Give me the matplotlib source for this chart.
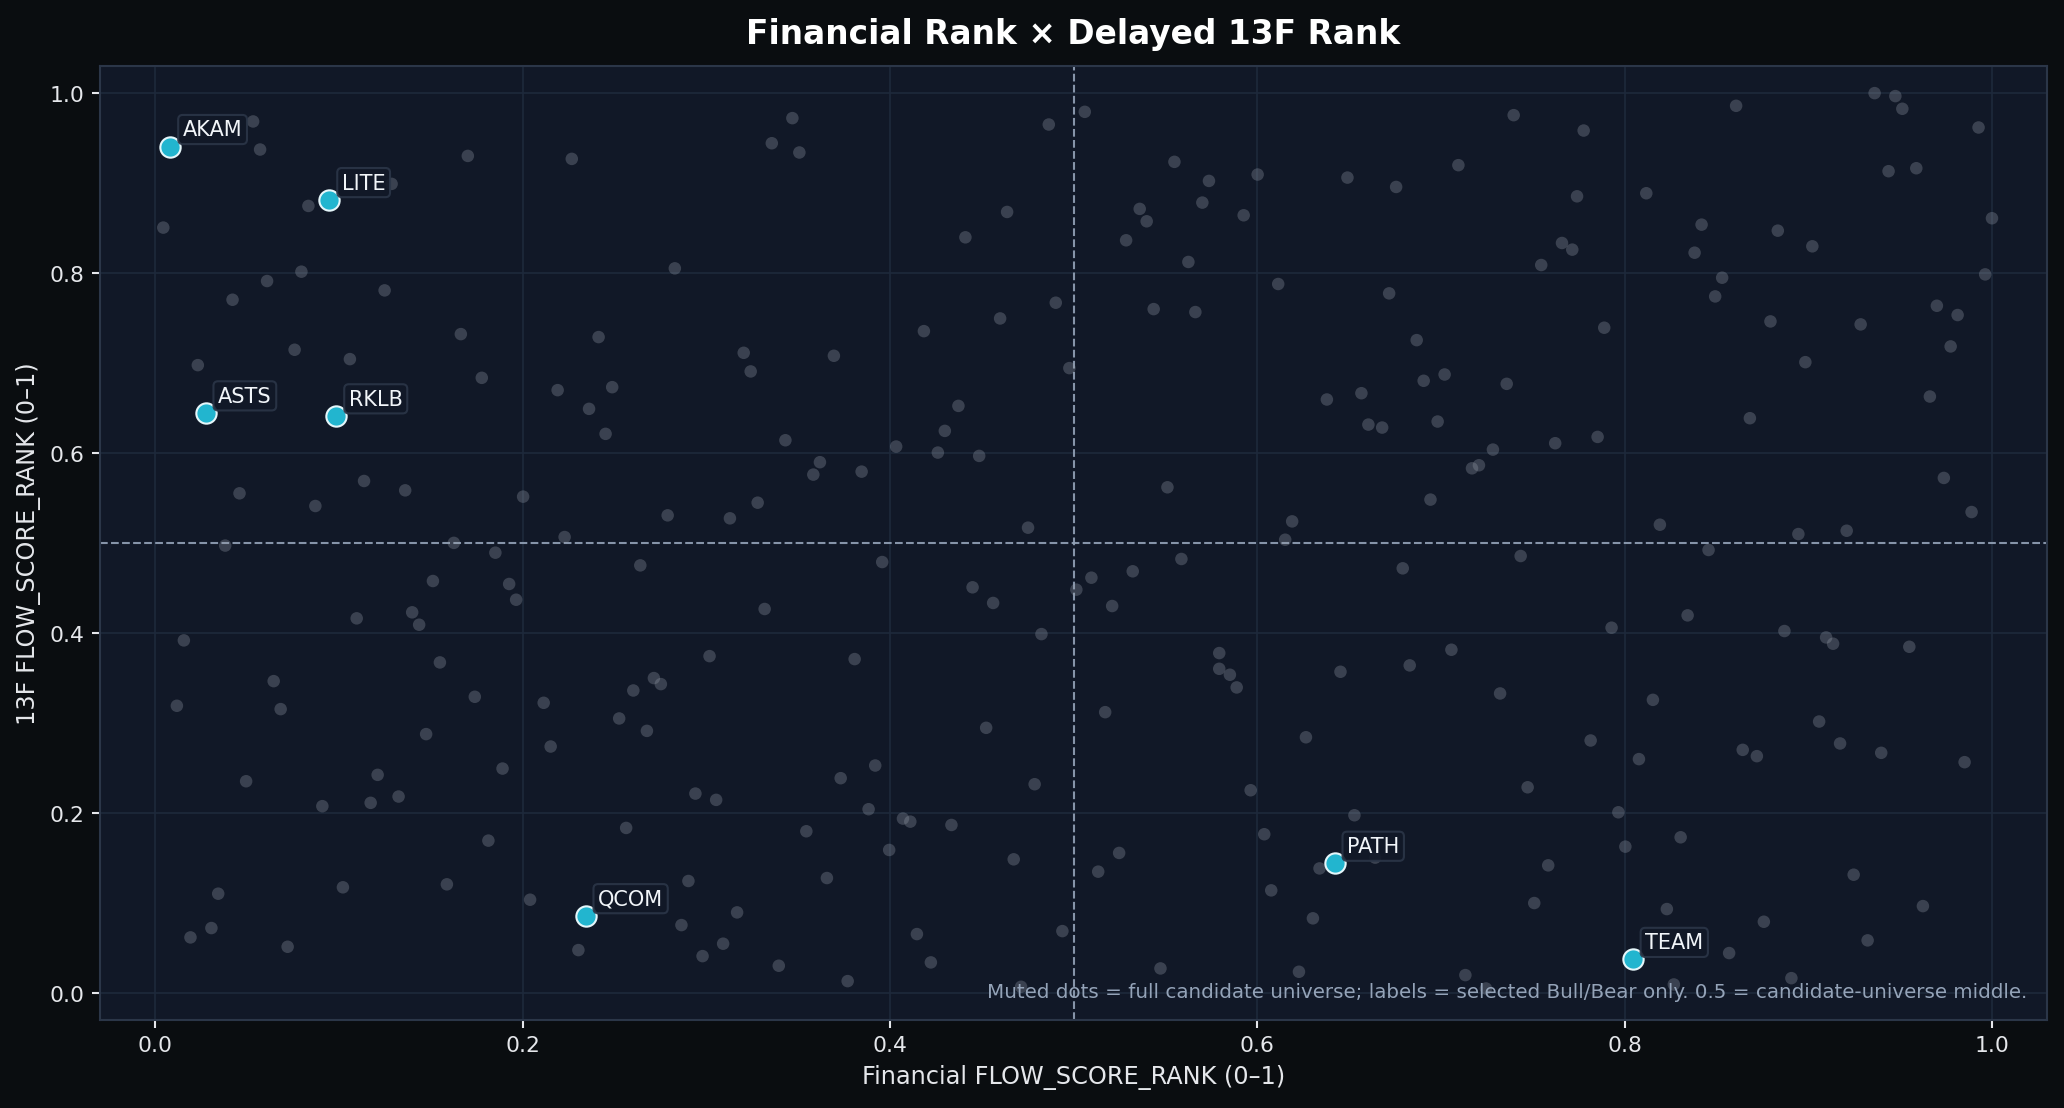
import matplotlib
matplotlib.use("Agg")
import matplotlib.pyplot as plt

# ---- data ----
universe_x = [
    0.0533, 0.0571, 0.1702, 0.2268, 0.1287, 0.0834, 0.0044, 0.0796, 0.0609, 0.0421,
    0.1249, 0.1664, 0.0759, 0.1060, 0.0232, 0.1778, 0.2191, 0.2362, 0.1137, 0.1361,
    0.0459, 0.0872, 0.2003, 0.2229, 0.1626, 0.0381,
    0.3469, 0.3357, 0.3507, 0.4865, 0.4638, 0.4411, 0.2829, 0.2414, 0.4903, 0.4600,
    0.4185, 0.3204, 0.3695, 0.3242, 0.2488, 0.4977, 0.2452, 0.4373, 0.4299, 0.3431,
    0.4034, 0.4261, 0.4486, 0.3619, 0.3583, 0.3846, 0.3280, 0.2790, 0.3129, 0.4752,
    0.5061, 0.5549, 0.5737, 0.6002, 0.5360, 0.5398, 0.5701, 0.5926, 0.5286, 0.5625,
    0.6491, 0.6756, 0.7095, 0.7396, 0.7659, 0.7546, 0.6114, 0.6718, 0.5436, 0.5663,
    0.6868, 0.7020, 0.6906, 0.7358, 0.6567, 0.6379, 0.6605, 0.6680, 0.6982, 0.7622,
    0.7283, 0.7207, 0.7169, 0.5511, 0.6943, 0.6190, 0.6152,
    0.7777, 0.8607, 0.9361, 0.9474, 0.9512, 0.9927, 0.9437, 0.9588, 0.7741, 0.8118,
    0.7715, 0.8419, 0.8381, 0.8834, 0.9022, 1.0000, 0.8531, 0.8493, 0.9963, 0.7889,
    0.8794, 0.9285, 0.9700, 0.9813, 0.9775, 0.8984, 0.9662, 0.8682, 0.7853, 0.9738,
    0.9889, 0.8192, 0.8946, 0.9209,
    0.1852, 0.1512, 0.1927, 0.1965, 0.1097, 0.1399, 0.1437, 0.0156, 0.1550, 0.0645,
    0.0118, 0.0683, 0.1740, 0.2115, 0.1475, 0.2153, 0.1891, 0.1211, 0.0495, 0.1325,
    0.1173, 0.0910, 0.1814, 0.1022, 0.1588, 0.0343, 0.2041, 0.0306, 0.0192, 0.0721,
    0.2304,
    0.2641, 0.3958, 0.3318, 0.4450, 0.4562, 0.5015, 0.4825, 0.3018, 0.3808, 0.2715,
    0.2753, 0.2603, 0.2526, 0.2677, 0.4524, 0.3920, 0.3732, 0.4788, 0.2941, 0.3054,
    0.3884, 0.4071, 0.4111, 0.4335, 0.2564, 0.3545, 0.3996, 0.4674, 0.3657, 0.2903,
    0.3168, 0.2865, 0.4147, 0.4939, 0.3092, 0.2980, 0.3395, 0.4223, 0.3770, 0.4714,
    0.5097, 0.5322, 0.5587, 0.5210, 0.6792, 0.7434, 0.5793, 0.5793, 0.5851, 0.5888,
    0.6453, 0.6830, 0.7057, 0.7322, 0.5172, 0.6265, 0.5964, 0.7472, 0.6529, 0.6038,
    0.5248, 0.5134, 0.6642, 0.6339, 0.7584, 0.6076, 0.7508, 0.6303, 0.5473, 0.6227,
    0.7133, 0.7245,
    0.8457, 0.8343, 0.7929, 0.8870, 0.9097, 0.9135, 0.9550, 0.8154, 0.9059, 0.7815,
    0.8078, 0.8643, 0.8720, 0.9173, 0.9397, 0.9851, 0.7966, 0.8004, 0.8305, 0.9247,
    0.9624, 0.8230, 0.8758, 0.9323, 0.8569, 0.8908, 0.8268,
]
universe_y = [
    0.9685, 0.9373, 0.9302, 0.9269, 0.8991, 0.8746, 0.8505, 0.8015, 0.7911, 0.7703,
    0.7807, 0.7321, 0.7147, 0.7043, 0.6976, 0.6835, 0.6698, 0.6490, 0.5688, 0.5584,
    0.5551, 0.5410, 0.5514, 0.5065, 0.5000, 0.4970,
    0.9722, 0.9443, 0.9340, 0.9651, 0.8679, 0.8397, 0.8052, 0.7288, 0.7670, 0.7495,
    0.7354, 0.7113, 0.7080, 0.6906, 0.6731, 0.6943, 0.6212, 0.6523, 0.6245, 0.6141,
    0.6071, 0.6004, 0.5967, 0.5897, 0.5759, 0.5792, 0.5447, 0.5306, 0.5273, 0.5169,
    0.9792, 0.9236, 0.9024, 0.9095, 0.8713, 0.8575, 0.8783, 0.8642, 0.8364, 0.8123,
    0.9061, 0.8957, 0.9199, 0.9755, 0.8334, 0.8089, 0.7878, 0.7774, 0.7599, 0.7566,
    0.7254, 0.6872, 0.6802, 0.6768, 0.6664, 0.6594, 0.6315, 0.6282, 0.6349, 0.6108,
    0.6037, 0.5863, 0.5829, 0.5618, 0.5481, 0.5239, 0.5035,
    0.9584, 0.9859, 1.0000, 0.9967, 0.9826, 0.9618, 0.9132, 0.9165, 0.8853, 0.8887,
    0.8260, 0.8538, 0.8226, 0.8471, 0.8297, 0.8609, 0.7948, 0.7740, 0.7985, 0.7392,
    0.7462, 0.7429, 0.7636, 0.7533, 0.7184, 0.7009, 0.6627, 0.6386, 0.6178, 0.5722,
    0.5343, 0.5202, 0.5098, 0.5135,
    0.4891, 0.4576, 0.4543, 0.4368, 0.4161, 0.4228, 0.4090, 0.3916, 0.3671, 0.3463,
    0.3189, 0.3152, 0.3289, 0.3222, 0.2874, 0.2736, 0.2491, 0.2421, 0.2350, 0.2180,
    0.2110, 0.2073, 0.1690, 0.1171, 0.1204, 0.1100, 0.1033, 0.0718, 0.0614, 0.0510,
    0.0473,
    0.4750, 0.4787, 0.4265, 0.4506, 0.4332, 0.4480, 0.3986, 0.3741, 0.3708, 0.3497,
    0.3430, 0.3359, 0.3048, 0.2910, 0.2944, 0.2525, 0.2384, 0.2317, 0.2213, 0.2143,
    0.2039, 0.1935, 0.1901, 0.1864, 0.1831, 0.1794, 0.1586, 0.1482, 0.1274, 0.1241,
    0.0892, 0.0751, 0.0651, 0.0684, 0.0544, 0.0406, 0.0299, 0.0336, 0.0128, 0.0065,
    0.4613, 0.4684, 0.4821, 0.4298, 0.4717, 0.4854, 0.3775, 0.3600, 0.3534, 0.3393,
    0.3567, 0.3638, 0.3812, 0.3326, 0.3118, 0.2839, 0.2250, 0.2283, 0.1972, 0.1761,
    0.1553, 0.1345, 0.1501, 0.1381, 0.1415, 0.1137, 0.0996, 0.0826, 0.0269, 0.0232,
    0.0195, 0.0046,
    0.4921, 0.4194, 0.4057, 0.4020, 0.3949, 0.3879, 0.3845, 0.3255, 0.3014, 0.2803,
    0.2596, 0.2699, 0.2629, 0.2770, 0.2666, 0.2562, 0.2005, 0.1623, 0.1727, 0.1311,
    0.0962, 0.0929, 0.0788, 0.0581, 0.0440, 0.0161, 0.0091,
]

selected_tickers = ["AKAM", "LITE", "ASTS", "RKLB", "QCOM", "PATH", "TEAM"]
selected_x = [0.0082, 0.0948, 0.0274, 0.0986, 0.2343, 0.6421, 0.8044]
selected_y = [0.9406, 0.8816, 0.6445, 0.6412, 0.0855, 0.1438, 0.0369]

x_ticks = [0.0, 0.2, 0.4, 0.6, 0.8, 1.0]
y_ticks = [0.0, 0.2, 0.4, 0.6, 0.8, 1.0]
midpoint = 0.5

title = "Financial Rank × Delayed 13F Rank"
x_label = "Financial FLOW_SCORE_RANK (0–1)"
y_label = "13F FLOW_SCORE_RANK (0–1)"
note = ("Muted dots = full candidate universe; labels = selected Bull/Bear only. "
        "0.5 = candidate-universe middle.")

# ---- style ----
FIG_BG = "#0a0d10"
AX_BG = "#111827"
TEXT = "#e5e7eb"
SPINE = "#2b3648"
GRID = "#1e293b"
MUTED = "#9ca3af"
CYAN = "#22b5cf"

plt.rcParams["font.family"] = ["DejaVu Sans"]

fig = plt.figure(figsize=(13.76, 7.393), dpi=150, facecolor=FIG_BG)
ax = fig.add_axes([0.0485, 0.0797, 0.9433, 0.8598])
ax.set_facecolor(AX_BG)

ax.set_xlim(-0.03, 1.03)
ax.set_ylim(-0.03, 1.03)
ax.set_xticks(x_ticks)
ax.set_yticks(y_ticks)
ax.grid(True, color=GRID, linewidth=0.8, zorder=0)
ax.set_axisbelow(True)

for s in ax.spines.values():
    s.set_color(SPINE)
    s.set_linewidth(1.0)
ax.tick_params(colors=TEXT, labelsize=10.5, length=4, width=1)

ax.axvline(midpoint, color="#94a3b8", linestyle="--", linewidth=1.0, alpha=0.9, zorder=1)
ax.axhline(midpoint, color="#94a3b8", linestyle="--", linewidth=1.0, alpha=0.9, zorder=1)

ax.scatter(universe_x, universe_y, s=36, color=MUTED, alpha=0.3,
           edgecolors="none", zorder=2)
ax.scatter(selected_x, selected_y, s=95, color=CYAN, edgecolors="#e5f6fa",
           linewidths=1.0, zorder=4)

for t, x, y in zip(selected_tickers, selected_x, selected_y):
    ax.annotate(t, (x, y), xytext=(6, 5.3), textcoords="offset points",
                ha="left", va="baseline", fontsize=10, color="#f1f5f9", zorder=5,
                bbox=dict(boxstyle="round,pad=0.22", facecolor="#111827",
                          edgecolor="#2b3648", linewidth=1.0, alpha=0.9))

ax.set_title(title, color="white", fontsize=15.8, fontweight="bold", pad=11)
ax.set_xlabel(x_label, color=TEXT, fontsize=11.5)
ax.set_ylabel(y_label, color=TEXT, fontsize=11.5)

ax.text(0.99, 0.024, note, transform=ax.transAxes, ha="right", va="baseline",
        fontsize=9.55, color="#94a3b8", zorder=6)

fig.savefig("out.png", dpi=150, facecolor=FIG_BG)
